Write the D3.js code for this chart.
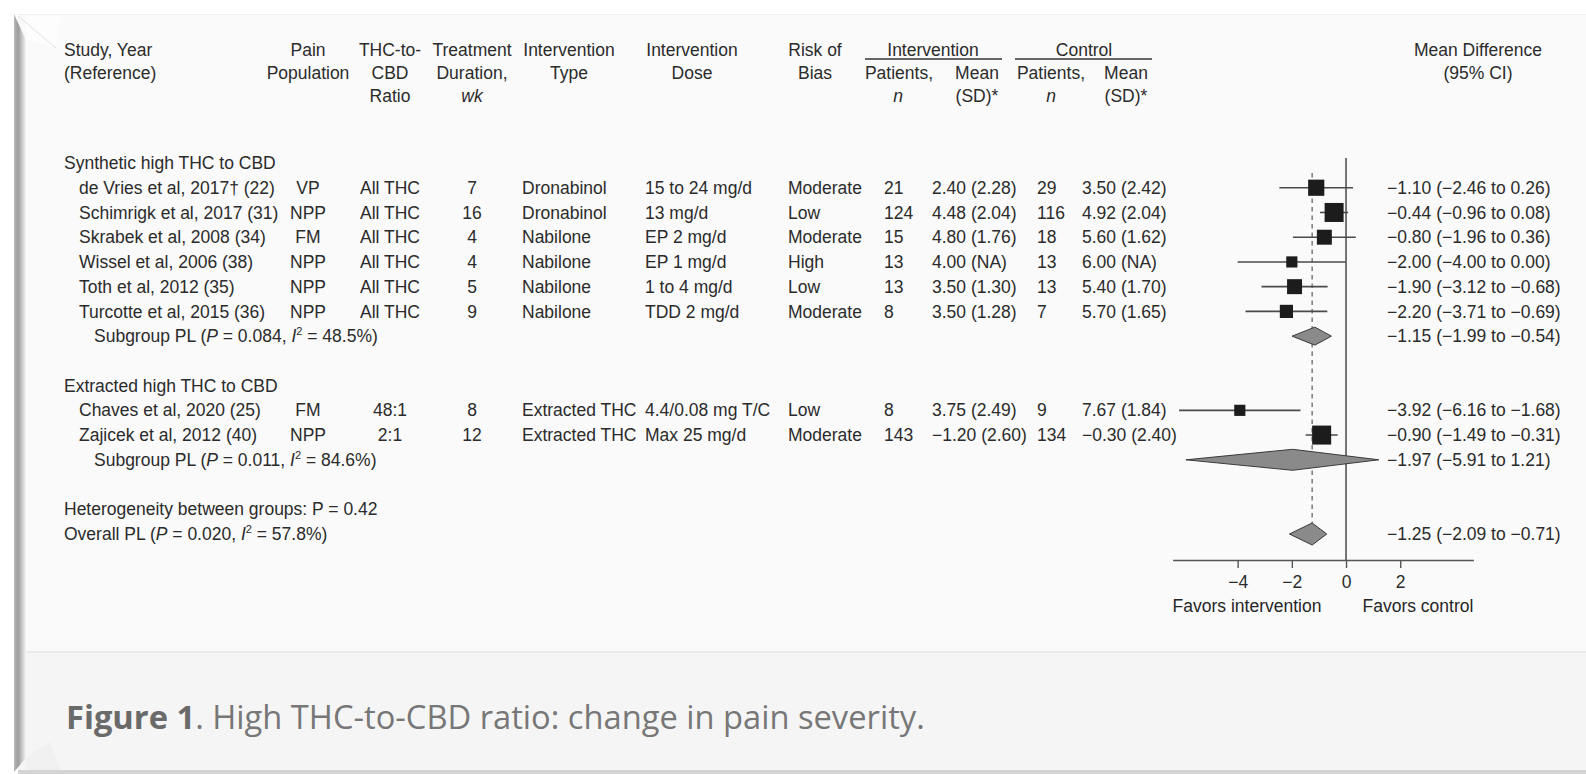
<!DOCTYPE html>
<html><head><meta charset="utf-8">
<script src="https://cdn.jsdelivr.net/npm/d3@7"></script>
<style>
body{margin:0;background:#fff;}
svg{display:block;}
</style>
</head><body>
<svg id="c" width="1586" height="774"></svg>
<script>
// ---------------- DATA ----------------
const groupNames = ["Synthetic high THC to CBD", "Extracted high THC to CBD"];
const studyLabels = ["de Vries et al, 2017\u2020 (22)", "Schimrigk et al, 2017 (31)", "Skrabek et al, 2008 (34)",
  "Wissel et al, 2006 (38)", "Toth et al, 2012 (35)", "Turcotte et al, 2015 (36)",
  "Chaves et al, 2020 (25)", "Zajicek et al, 2012 (40)"];
const studyGroup = [0, 0, 0, 0, 0, 0, 1, 1];
const painPopulation = ["VP", "NPP", "FM", "NPP", "NPP", "NPP", "FM", "NPP"];
const thcToCbdRatio = ["All THC", "All THC", "All THC", "All THC", "All THC", "All THC", "48:1", "2:1"];
const durationWk = [7, 16, 4, 4, 5, 9, 8, 12];
const interventionType = ["Dronabinol", "Dronabinol", "Nabilone", "Nabilone", "Nabilone", "Nabilone", "Extracted THC", "Extracted THC"];
const interventionDose = ["15 to 24 mg/d", "13 mg/d", "EP 2 mg/d", "EP 1 mg/d", "1 to 4 mg/d", "TDD 2 mg/d", "4.4/0.08 mg T/C", "Max 25 mg/d"];
const riskOfBias = ["Moderate", "Low", "Moderate", "High", "Low", "Moderate", "Low", "Moderate"];
const intN = [21, 124, 15, 13, 13, 8, 8, 143];
const intMean = [2.40, 4.48, 4.80, 4.00, 3.50, 3.50, 3.75, -1.20];
const intSD = [2.28, 2.04, 1.76, null, 1.30, 1.28, 2.49, 2.60];
const ctrlN = [29, 116, 18, 13, 13, 7, 9, 134];
const ctrlMean = [3.50, 4.92, 5.60, 6.00, 5.40, 5.70, 7.67, -0.30];
const ctrlSD = [2.42, 2.04, 1.62, null, 1.70, 1.65, 1.84, 2.40];
const meanDiff = [-1.10, -0.44, -0.80, -2.00, -1.90, -2.20, -3.92, -0.90];
const ciLow = [-2.46, -0.96, -1.96, -4.00, -3.12, -3.71, -6.16, -1.49];
const ciHigh = [0.26, 0.08, 0.36, 0.00, -0.68, -0.69, -1.68, -0.31];
const studyWeight = [10.5, 14.5, 9, 5, 9, 7, 5, 14.5]; // estimated from square sizes
const subgroupP = [0.084, 0.011];
const subgroupI2 = [48.5, 84.6];
const subgroupMD = [-1.15, -1.97];
const subgroupLow = [-1.99, -5.91];
const subgroupHigh = [-0.54, 1.21];
const heterogeneityP = 0.42;
const overallP = 0.020, overallI2 = 57.8;
const overallMD = -1.25, overallLow = -2.09, overallHigh = -0.71;
const axisTicks = [-4, -2, 0, 2];
const axisLabels = ["Favors intervention", "Favors control"];
const captionBold = "Figure 1";
const captionRest = ". High THC-to-CBD ratio: change in pain severity.";

// ---------------- LAYOUT ----------------
const W = 1586, H = 774;
const FS = 17.5;
const FONT = "'Liberation Sans', Arial, sans-serif";
const TXT = "#2b2b2b";
const svg = d3.select("#c");

// background card
const defs = svg.append("defs");
const lg = defs.append("linearGradient").attr("id", "lshadow").attr("x1", 0).attr("x2", 1).attr("y1", 0).attr("y2", 0);
lg.append("stop").attr("offset", 0).attr("stop-color", "#b9b9b9");
lg.append("stop").attr("offset", 0.35).attr("stop-color", "#9c9c9c");
lg.append("stop").attr("offset", 1).attr("stop-color", "#f6f6f6");
svg.append("rect").attr("width", W).attr("height", H).attr("fill", "#ffffff");
svg.append("rect").attr("x", 18).attr("y", 14).attr("width", W - 18).attr("height", 758).attr("fill", "#fafafa");
svg.append("line").attr("x1", 18).attr("x2", W).attr("y1", 14.5).attr("y2", 14.5).attr("stroke", "#efefef");
svg.append("rect").attr("x", 18).attr("y", 652).attr("width", W - 18).attr("height", 118).attr("fill", "#f5f5f5");
svg.append("line").attr("x1", 26).attr("x2", W).attr("y1", 652).attr("y2", 652).attr("stroke", "#e6e6e6").attr("stroke-width", 1.5);
svg.append("rect").attr("x", 18).attr("y", 770).attr("width", W - 18).attr("height", 4).attr("fill", "#d4d4d4");
svg.append("polygon").attr("points", "14,14 26,40 26,758 14,772").attr("fill", "url(#lshadow)");
svg.append("polygon").attr("points", "26,16 26,40 56,48 60,16").attr("fill", "#fdfdfd");
svg.append("line").attr("x1", 18).attr("y1", 16).attr("x2", 56).attr("y2", 48).attr("stroke", "#e2e2e2");
svg.append("polygon").attr("points", "26,758 26,770 60,770 50,742").attr("fill", "#f0f0f0");

function txt(x, y, s, anchor, opts) {
  opts = opts || {};
  const t = svg.append("text").attr("x", x).attr("y", y).attr("dy", "0.35em")
    .attr("text-anchor", anchor || "start").attr("font-size", opts.size || FS)
    .attr("font-family", FONT)
    .attr("fill", opts.fill || TXT);
  if (opts.italic) t.attr("font-style", "italic");
  if (opts.weight) t.attr("font-weight", opts.weight);
  if (s != null) t.text(s);
  return t;
}

// column positions
const col = {
  study: 64, studyIndent: 79, subIndent: 94,
  pop: 308, ratio: 390, dur: 472, type: 522, dose: 645, bias: 788,
  intN: 884, intMean: 932, ctrlN: 1037, ctrlMean: 1082, ci: 1387
};

// header
const hy = [50, 73, 96];
txt(col.study, hy[0], "Study, Year"); txt(col.study, hy[1], "(Reference)");
txt(col.pop, hy[0], "Pain", "middle"); txt(col.pop, hy[1], "Population", "middle");
txt(col.ratio, hy[0], "THC-to-", "middle"); txt(col.ratio, hy[1], "CBD", "middle"); txt(col.ratio, hy[2], "Ratio", "middle");
txt(col.dur, hy[0], "Treatment", "middle"); txt(col.dur, hy[1], "Duration,", "middle"); txt(col.dur, hy[2], "wk", "middle", {italic: true});
txt(569, hy[0], "Intervention", "middle"); txt(569, hy[1], "Type", "middle");
txt(692, hy[0], "Intervention", "middle"); txt(692, hy[1], "Dose", "middle");
txt(815, hy[0], "Risk of", "middle"); txt(815, hy[1], "Bias", "middle");
txt(933, hy[0], "Intervention", "middle"); txt(1084, hy[0], "Control", "middle");
svg.append("line").attr("x1", 865).attr("x2", 1002).attr("y1", 59).attr("y2", 59).attr("stroke", "#333").attr("stroke-width", 1.5);
svg.append("line").attr("x1", 1015).attr("x2", 1152).attr("y1", 59).attr("y2", 59).attr("stroke", "#333").attr("stroke-width", 1.5);
txt(899, hy[1], "Patients,", "middle"); txt(898, hy[2], "n", "middle", {italic: true});
txt(977, hy[1], "Mean", "middle"); txt(977, hy[2], "(SD)*", "middle");
txt(1051, hy[1], "Patients,", "middle"); txt(1051, hy[2], "n", "middle", {italic: true});
txt(1126, hy[1], "Mean", "middle"); txt(1126, hy[2], "(SD)*", "middle");
txt(1478, hy[0], "Mean Difference", "middle"); txt(1478, hy[1], "(95% CI)", "middle");

// rows
const layout = [];
let r = 0;
groupNames.forEach((g, gi) => {
  layout.push({type: "group", gi, row: r++});
  studyGroup.forEach((sg, si) => { if (sg === gi) layout.push({type: "study", si, row: r++}); });
  layout.push({type: "subgroup", gi, row: r++});
  r++;
});
layout.push({type: "het", row: r++});
layout.push({type: "overall", row: r++});

const y = d3.scaleLinear().domain([0, r - 1]).range([163, 534]);
const x = d3.scaleLinear().domain([-6.4, 4.7]).range([1172.6, 1473.4]);
const side = d3.scaleSqrt().domain([0, 14.5]).range([0, 19]);
const f2 = d3.format(".2f");
const ciText = (m, lo, hi) => `${f2(m)} (${f2(lo)} to ${f2(hi)})`;

function plLabel(xp, yp, prefix, p, i2) {
  const t = txt(xp, yp, null);
  t.append("tspan").text(prefix + " (");
  t.append("tspan").attr("font-style", "italic").text("P");
  t.append("tspan").text(" = " + d3.format(".3f")(p) + ", ");
  t.append("tspan").attr("font-style", "italic").text("I");
  t.append("tspan").attr("font-size", 11).attr("dy", -7).text("2");
  t.append("tspan").attr("dy", 7).text(" = " + d3.format(".1f")(i2) + "%)");
}

// forest background lines
const axisY = 560;
svg.append("line").attr("x1", x(0)).attr("x2", x(0)).attr("y1", 158).attr("y2", axisY)
  .attr("stroke", "#555").attr("stroke-width", 1.6);
svg.append("line").attr("x1", x(overallMD)).attr("x2", x(overallMD)).attr("y1", 173).attr("y2", y(15) - 11)
  .attr("stroke", "#7a7a7a").attr("stroke-width", 1.5).attr("stroke-dasharray", "4.5,4");

function diamond(m, lo, hi, yc, hh) {
  svg.append("path")
    .attr("d", `M${x(lo)},${yc} L${x(m)},${yc - hh} L${x(hi)},${yc} L${x(m)},${yc + hh} Z`)
    .attr("fill", "#8a8a8a").attr("stroke", "#3a3a3a").attr("stroke-width", 1);
}

layout.forEach(d => {
  const yy = y(d.row);
  if (d.type === "group") {
    txt(col.study, yy, groupNames[d.gi]);
  } else if (d.type === "study") {
    const i = d.si;
    txt(col.studyIndent, yy, studyLabels[i]);
    txt(col.pop, yy, painPopulation[i], "middle");
    txt(col.ratio, yy, thcToCbdRatio[i], "middle");
    txt(col.dur, yy, durationWk[i], "middle");
    txt(col.type, yy, interventionType[i]);
    txt(col.dose, yy, interventionDose[i]);
    txt(col.bias, yy, riskOfBias[i]);
    txt(col.intN, yy, intN[i]);
    txt(col.intMean, yy, `${f2(intMean[i])} (${intSD[i] == null ? "NA" : f2(intSD[i])})`);
    txt(col.ctrlN, yy, ctrlN[i]);
    txt(col.ctrlMean, yy, `${f2(ctrlMean[i])} (${ctrlSD[i] == null ? "NA" : f2(ctrlSD[i])})`);
    txt(col.ci, yy, ciText(meanDiff[i], ciLow[i], ciHigh[i]));
    svg.append("line").attr("x1", x(ciLow[i])).attr("x2", x(ciHigh[i])).attr("y1", yy).attr("y2", yy)
      .attr("stroke", "#4a4a4a").attr("stroke-width", 1.6);
    const s = side(studyWeight[i]);
    svg.append("rect").attr("x", x(meanDiff[i]) - s / 2).attr("y", yy - s / 2)
      .attr("width", s).attr("height", s).attr("fill", "#1c1c1c");
  } else if (d.type === "subgroup") {
    const g = d.gi;
    plLabel(col.subIndent, yy, "Subgroup PL", subgroupP[g], subgroupI2[g]);
    diamond(subgroupMD[g], subgroupLow[g], subgroupHigh[g], yy, g === 0 ? 9 : 10.5);
    txt(col.ci, yy, ciText(subgroupMD[g], subgroupLow[g], subgroupHigh[g]));
  } else if (d.type === "het") {
    txt(col.study, yy, "Heterogeneity between groups: P = " + f2(heterogeneityP));
  } else if (d.type === "overall") {
    plLabel(col.study, yy, "Overall PL", overallP, overallI2);
    diamond(overallMD, overallLow, overallHigh, yy, 11);
    txt(col.ci, yy, ciText(overallMD, overallLow, overallHigh));
  }
});

// axis
const ax = svg.append("g").attr("transform", `translate(0,${axisY})`)
  .call(d3.axisBottom(x).tickValues(axisTicks).tickSize(8).tickSizeOuter(0).tickPadding(8).tickFormat(d3.format("d")));
ax.select(".domain").attr("stroke", "#555").attr("stroke-width", 1.6);
ax.selectAll(".tick line").attr("stroke", "#555").attr("stroke-width", 1.4);
ax.selectAll(".tick text").attr("font-size", FS).attr("fill", TXT).attr("font-family", FONT);
txt(x.range()[0], 606, axisLabels[0], "start", {fill: "#262626"});
txt(x.range()[1], 606, axisLabels[1], "end", {fill: "#262626"});

// caption
const cap = svg.append("text").attr("x", 66).attr("y", 729)
  .style("font-family", "'Open Sans', 'Noto Sans', sans-serif").style("font-size", "26px");
cap.append("tspan").style("font-weight", "700").attr("fill", "#6a6a6a").text(captionBold);
cap.append("tspan").style("font-weight", "400").attr("fill", "#777777").text(captionRest);
const len = cap.node().getComputedTextLength();
cap.style("font-size", (26 * 859 / len) + "px");
</script>
</body></html>
